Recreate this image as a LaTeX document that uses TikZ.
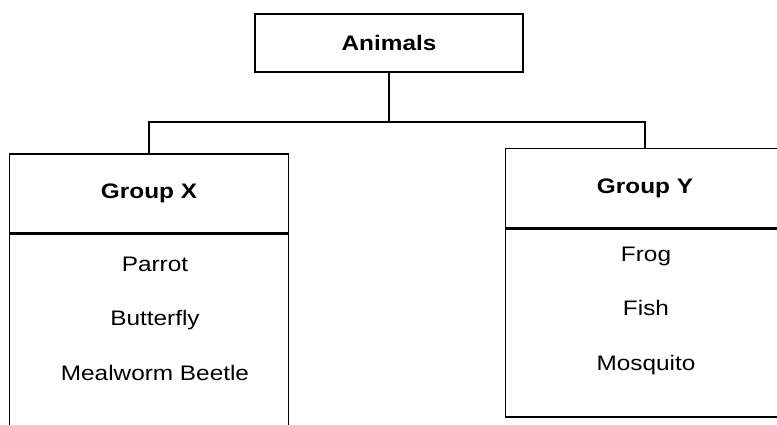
\documentclass[tikz,border=0pt]{standalone}
\usepackage{fontspec}
\setmainfont{Liberation Sans}[FakeStretch=1.16]
\usepackage{tikz}
\usetikzlibrary{positioning}

\begin{document}
\begin{tikzpicture}[
            x=1pt, y=-1pt,
            node distance=35pt,
            titlebox/.style={ rectangle, draw, line width=1.5pt, minimum width=268pt, minimum height=58pt, inner sep=0pt, font=\fontsize{21}{25}\selectfont\bfseries },
            groupbox/.style={ rectangle, draw, line width=1.5pt, minimum width=279pt, minimum height=79pt, inner sep=0pt, font=\fontsize{21}{25}\selectfont\bfseries },
            listbox/.style={ rectangle, draw, line width=1.5pt, minimum width=279pt, inner sep=0pt },
            animal/.style={ inner sep=0pt, text height=15pt, text depth=4pt, font=\fontsize{21}{25}\selectfont },
            link/.style={ line width=1.5pt }
        ]
            \useasboundingbox (0,0) rectangle (777,424);

            % Main node
            \node (animals) [titlebox] at (389,43) {Animals};

            % Group boxes
            \node (groupx) [groupbox] at (149,193.5) {Group X};
            \node (listx) [listbox, minimum height=215pt, below=0pt of groupx] {};
            \node (groupy) [groupbox] at (645,188) {Group Y};
            \node (listy) [listbox, minimum height=188pt, below=0pt of groupy] {};

            % Members of Group X
            \node (parrot) [animal] at (155,266) {Parrot};
            \node (butterfly) [animal, below=of parrot] {Butterfly};
            \node (mealworm) [animal, below=of butterfly] {Mealworm Beetle};

            % Members of Group Y
            \node (frog) [animal] at (646,256) {Frog};
            \node (fish) [animal, below=of frog] {Fish};
            \node (mosquito) [animal, below=of fish] {Mosquito};

            % Connectors
            \coordinate (fork) at (animals.south |- 0,122);
            \draw[link] (animals) -- (fork);
            \draw[link] (fork) -| (groupx);
            \draw[link] (fork) -| (groupy);

        \end{tikzpicture}
\end{document}
